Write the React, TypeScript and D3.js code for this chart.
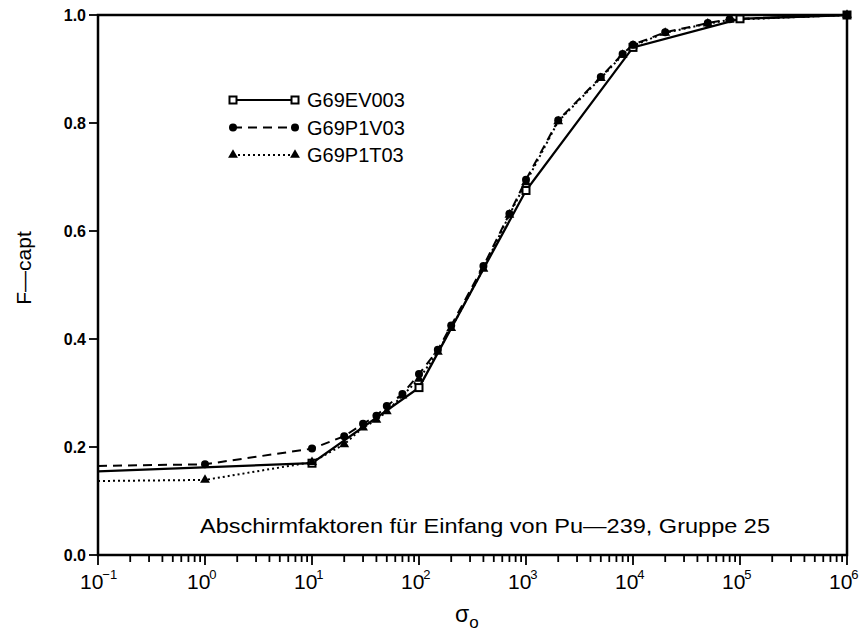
import React, { useEffect, useRef } from "react";
import * as d3 from "d3";

// sigma_0 grid and F-capt values
const sigmaEV = [0.1, 10, 100, 1000, 10000, 100000, 1000000];
const fcaptEV = [0.155, 0.17, 0.31, 0.675, 0.94, 0.993, 1.0];

const sigmaP1 = [
  0.1, 1, 10, 20, 30, 40, 50, 70, 100, 150, 200, 400, 700, 1000, 2000, 5000,
  8000, 10000, 20000, 50000, 80000, 1000000,
];
const fcaptP1V = [
  0.165, 0.168, 0.197, 0.22, 0.243, 0.258, 0.276, 0.298, 0.335, 0.38, 0.425,
  0.535, 0.632, 0.695, 0.805, 0.885, 0.928, 0.945, 0.968, 0.985, 0.992, 1.0,
];
const fcaptP1T = [
  0.137, 0.139, 0.172, 0.205, 0.236, 0.25, 0.266, 0.295, 0.326, 0.376, 0.42,
  0.53, 0.63, 0.69, 0.803, 0.883, 0.926, 0.943, 0.967, 0.984, 0.991, 1.0,
];

const seriesNames = ["G69EV003", "G69P1V03", "G69P1T03"];
const yTicks = [0, 0.2, 0.4, 0.6, 0.8, 1.0];
const decades = [-1, 0, 1, 2, 3, 4, 5, 6];
const title = "Abschirmfaktoren für Einfang von Pu\u2014239, Gruppe 25";

const W = 861;
const H = 633;
const FONT = "'Liberation Sans', Arial, sans-serif";

function drawChart(el: SVGSVGElement) {
  const svg = d3.select(el);
  svg.selectAll("*").remove();

  const x = d3.scaleLog().domain([0.1, 1e6]).range([98, 847]);
  const y = d3.scaleLinear().domain([0, 1]).range([555, 15]);

  const series = [
    { name: seriesNames[0], xs: sigmaEV, ys: fcaptEV, dash: null, marker: "square" },
    { name: seriesNames[1], xs: sigmaP1, ys: fcaptP1V, dash: "9,6", marker: "circle" },
    { name: seriesNames[2], xs: sigmaP1, ys: fcaptP1T, dash: "2,3", marker: "triangle" },
  ];

  const drawMarker = (g, kind: string, cx: number, cy: number) => {
    if (kind === "square") {
      g.append("rect")
        .attr("x", cx - 3.5)
        .attr("y", cy - 3.5)
        .attr("width", 7)
        .attr("height", 7)
        .attr("fill", "#fff")
        .attr("stroke", "#000")
        .attr("stroke-width", 2);
    } else if (kind === "circle") {
      g.append("circle")
        .attr("cx", cx)
        .attr("cy", cy)
        .attr("r", 4)
        .attr("fill", "#000");
    } else {
      g.append("path")
        .attr("d", d3.symbol(d3.symbolTriangle, 42)())
        .attr("transform", `translate(${cx},${cy})`)
        .attr("fill", "#000");
    }
  };

  const line = d3
    .line<[number, number]>()
    .x((d) => x(d[0]))
    .y((d) => y(d[1]));

  // lines
  series.forEach((s) => {
    svg
      .append("path")
      .attr("d", line(d3.zip(s.xs, s.ys) as [number, number][]))
      .attr("fill", "none")
      .attr("stroke", "#000")
      .attr("stroke-width", s.dash ? 2 : 2.3)
      .attr("stroke-dasharray", s.dash);
  });

  // markers (the ones at 10^-1 sit on the axis and are not drawn)
  series.forEach((s) => {
    const g = svg.append("g");
    s.xs.forEach((v, i) => {
      if (v <= 0.1) return;
      drawMarker(g, s.marker, x(v), y(s.ys[i]));
    });
  });

  // frame
  svg
    .append("rect")
    .attr("x", x(0.1))
    .attr("y", y(1))
    .attr("width", x(1e6) - x(0.1))
    .attr("height", y(0) - y(1))
    .attr("fill", "none")
    .attr("stroke", "#000")
    .attr("stroke-width", 2.5);

  // bottom ticks
  const ticks = svg.append("g").attr("stroke", "#000").attr("stroke-width", 1.8);
  decades.forEach((d) => {
    const v = Math.pow(10, d);
    ticks
      .append("line")
      .attr("x1", x(v))
      .attr("x2", x(v))
      .attr("y1", y(0))
      .attr("y2", y(0) + 10);
    if (d < 6) {
      for (let m = 2; m <= 9; m++) {
        ticks
          .append("line")
          .attr("x1", x(v * m))
          .attr("x2", x(v * m))
          .attr("y1", y(0))
          .attr("y2", y(0) + 7);
      }
    }
  });

  // x labels 10^n
  decades.forEach((d) => {
    const t = svg
      .append("text")
      .attr("x", x(Math.pow(10, d)) - 18)
      .attr("y", 589)
      .attr("font-family", FONT)
      .attr("font-size", 21)
      .text("10");
    t.append("tspan")
      .attr("dy", -10)
      .attr("dx", -1)
      .attr("font-size", 13)
      .text(d < 0 ? "\u2212" + Math.abs(d) : String(d));
  });

  // y ticks and labels
  yTicks.forEach((v) => {
    ticks
      .append("line")
      .attr("x1", x(0.1) - 9)
      .attr("x2", x(0.1))
      .attr("y1", y(v))
      .attr("y2", y(v));
    svg
      .append("text")
      .attr("x", x(0.1) - 12)
      .attr("y", y(v))
      .attr("dy", "0.36em")
      .attr("text-anchor", "end")
      .attr("font-family", FONT)
      .attr("font-weight", "bold")
      .attr("font-size", 16)
      .text(v.toFixed(1));
  });

  // axis titles
  svg
    .append("text")
    .attr("transform", "translate(31,268) rotate(-90)")
    .attr("text-anchor", "middle")
    .attr("font-family", FONT)
    .attr("font-size", 21)
    .text("F\u2014capt");

  const xt = svg
    .append("text")
    .attr("x", 455)
    .attr("y", 622)
    .attr("font-family", FONT)
    .attr("font-size", 23)
    .text("\u03c3");
  xt.append("tspan").attr("dy", 6).attr("font-size", 17).text("o");

  // annotation
  svg
    .append("text")
    .attr("x", 200)
    .attr("y", 533)
    .attr("font-family", FONT)
    .attr("font-size", 21)
    .attr("textLength", 570)
    .attr("lengthAdjust", "spacingAndGlyphs")
    .text(title);

  // legend
  const legend = svg.append("g");
  series.forEach((s, i) => {
    const ly = 100 + i * 27.5;
    legend
      .append("line")
      .attr("x1", 233)
      .attr("x2", 295)
      .attr("y1", ly)
      .attr("y2", ly)
      .attr("stroke", "#000")
      .attr("stroke-width", 2)
      .attr("stroke-dasharray", s.dash);
    drawMarker(legend, s.marker, 233, ly);
    drawMarker(legend, s.marker, 295, ly);
    legend
      .append("text")
      .attr("x", 307)
      .attr("y", ly + 7)
      .attr("font-family", FONT)
      .attr("font-size", 20)
      .text(s.name);
  });
}

export default function App() {
  const ref = useRef<SVGSVGElement>(null);

  useEffect(() => {
    if (ref.current) drawChart(ref.current);
  }, []);

  return (
    <svg
      ref={ref}
      width={W}
      height={H}
      style={{ position: "absolute", left: 0, top: 0, background: "#fff" }}
    />
  );
}
